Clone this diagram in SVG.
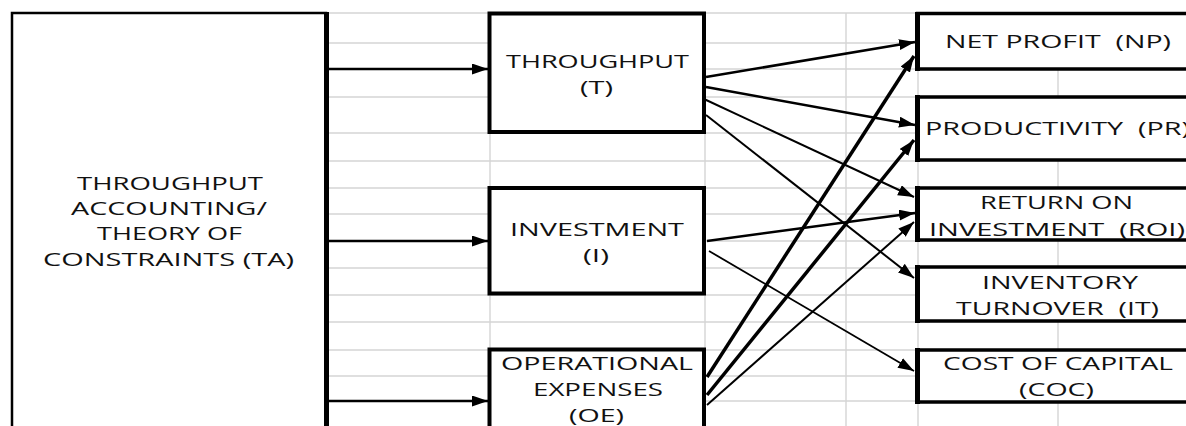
<svg xmlns="http://www.w3.org/2000/svg" width="1186" height="426" viewBox="0 0 1186 426">
<defs>
<marker id="ah" markerUnits="userSpaceOnUse" markerWidth="17" markerHeight="12" refX="16" refY="5.5" orient="auto">
<path d="M0,0 L16,5.5 L0,11 z" fill="#000"/>
</marker>
<style>
.grid line{stroke:#d4d4d4;stroke-width:1.4}
.box{fill:#fff;stroke:#000;stroke-width:4}
.rbox{fill:#fff;stroke:#000;stroke-width:3.5}
text{font-family:"Open Sans","Liberation Sans",sans-serif;font-size:18px;fill:#111;white-space:pre}
.c line{stroke:#000;fill:none;marker-end:url(#ah)}
</style>
</defs>
<rect width="1186" height="426" fill="#fff"/>
<g class="grid">
<line x1="327" y1="13" x2="918" y2="13"/>
<line x1="327" y1="43" x2="918" y2="43"/>
<line x1="327" y1="69" x2="918" y2="69"/>
<line x1="327" y1="97" x2="918" y2="97"/>
<line x1="327" y1="133" x2="918" y2="133"/>
<line x1="327" y1="161" x2="918" y2="161"/>
<line x1="327" y1="188" x2="918" y2="188"/>
<line x1="327" y1="214" x2="918" y2="214"/>
<line x1="327" y1="241" x2="918" y2="241"/>
<line x1="327" y1="268" x2="918" y2="268"/>
<line x1="327" y1="295" x2="918" y2="295"/>
<line x1="327" y1="322" x2="918" y2="322"/>
<line x1="327" y1="350" x2="918" y2="350"/>
<line x1="327" y1="376" x2="918" y2="376"/>
<line x1="327" y1="401" x2="918" y2="401"/>
<line x1="490" y1="132" x2="490" y2="188"/>
<line x1="490" y1="293" x2="490" y2="350"/>
<line x1="705" y1="132" x2="705" y2="188"/>
<line x1="705" y1="293" x2="705" y2="350"/>
<line x1="846" y1="13" x2="846" y2="426"/>
<line x1="918" y1="13" x2="918" y2="426"/>
<line x1="1058" y1="69" x2="1058" y2="97"/>
<line x1="1058" y1="160" x2="1058" y2="188"/>
<line x1="1058" y1="240" x2="1058" y2="267"/>
<line x1="1058" y1="321" x2="1058" y2="350"/>
<line x1="1058" y1="402" x2="1058" y2="426"/>
</g>
<g id="ta">
<rect x="12" y="13" width="314" height="430" fill="#fff" stroke="#000" stroke-width="2.5"/>
<line x1="326.5" y1="12" x2="326.5" y2="426" stroke="#000" stroke-width="5"/>
<text x="77" y="190" textLength="186" lengthAdjust="spacingAndGlyphs">THROUGHPUT</text>
<text x="71" y="215" textLength="196" lengthAdjust="spacingAndGlyphs">ACCOUNTING/</text>
<text x="97" y="240" textLength="145" lengthAdjust="spacingAndGlyphs">THEORY OF</text>
<text x="43" y="266" textLength="251" lengthAdjust="spacingAndGlyphs">CONSTRAINTS (TA)</text>
</g>
<g id="t">
<rect class="box" x="489.5" y="13.5" width="214.5" height="118.5"/>
<text x="506" y="68" textLength="183" lengthAdjust="spacingAndGlyphs">THROUGHPUT</text>
<text x="580" y="94" textLength="33" lengthAdjust="spacingAndGlyphs">(T)</text>
</g>
<g id="i">
<rect class="box" x="489.5" y="188" width="214.5" height="105.5"/>
<text x="510" y="236" textLength="174" lengthAdjust="spacingAndGlyphs">INVESTMENT</text>
<text x="583" y="262" textLength="26" lengthAdjust="spacingAndGlyphs">(I)</text>
</g>
<g id="oe">
<rect class="box" x="489.5" y="349.5" width="214.5" height="100"/>
<text x="501" y="370" textLength="192" lengthAdjust="spacingAndGlyphs">OPERATIONAL</text>
<text x="533" y="396" textLength="130" lengthAdjust="spacingAndGlyphs">EXPENSES</text>
<text x="569" y="422" textLength="55" lengthAdjust="spacingAndGlyphs">(OE)</text>
</g>
<g id="np">
<rect class="rbox" x="917.5" y="13.5" width="300" height="55.5"/>
<line x1="917.5" y1="12" x2="917.5" y2="71" stroke="#000" stroke-width="5"/>
<text x="945" y="48" textLength="226" lengthAdjust="spacingAndGlyphs">NET PROFIT  (NP)</text>
</g>
<g id="pr">
<rect class="rbox" x="917.5" y="97" width="300" height="63"/>
<line x1="917.5" y1="95" x2="917.5" y2="162" stroke="#000" stroke-width="5"/>
<text x="925" y="135" textLength="265" lengthAdjust="spacingAndGlyphs">PRODUCTIVITY  (PR)</text>
</g>
<g id="roi">
<rect class="rbox" x="917.5" y="188" width="300" height="52"/>
<line x1="917.5" y1="186" x2="917.5" y2="242" stroke="#000" stroke-width="5"/>
<text x="980" y="209" textLength="153" lengthAdjust="spacingAndGlyphs">RETURN ON</text>
<text x="929" y="236" textLength="256" lengthAdjust="spacingAndGlyphs">INVESTMENT  (ROI)</text>
</g>
<g id="it">
<rect class="rbox" x="917.5" y="267" width="300" height="54"/>
<line x1="917.5" y1="265" x2="917.5" y2="323" stroke="#000" stroke-width="5"/>
<text x="982" y="289" textLength="156" lengthAdjust="spacingAndGlyphs">INVENTORY</text>
<text x="956" y="315" textLength="203" lengthAdjust="spacingAndGlyphs">TURNOVER  (IT)</text>
</g>
<g id="coc">
<rect class="rbox" x="917.5" y="350" width="300" height="52"/>
<line x1="917.5" y1="348" x2="917.5" y2="404" stroke="#000" stroke-width="5"/>
<text x="943" y="370" textLength="230" lengthAdjust="spacingAndGlyphs">COST OF CAPITAL</text>
<text x="1019" y="396" textLength="75" lengthAdjust="spacingAndGlyphs">(COC)</text>
</g>
<g id="connectors" class="c">
<line x1="329" y1="69" x2="488" y2="69" stroke-width="2.5"/>
<line x1="329" y1="241" x2="488" y2="241" stroke-width="2.5"/>
<line x1="329" y1="401" x2="488" y2="401" stroke-width="2.5"/>
<line x1="706" y1="77" x2="915" y2="42" stroke-width="2.5"/>
<line x1="706" y1="87" x2="915" y2="125" stroke-width="2.5"/>
<line x1="704" y1="99" x2="914" y2="197" stroke-width="2"/>
<line x1="706" y1="115" x2="914" y2="278" stroke-width="2"/>
<line x1="707" y1="241" x2="915" y2="213" stroke-width="2.5"/>
<line x1="709" y1="251" x2="914" y2="371" stroke-width="1.8"/>
<line x1="707" y1="377" x2="914" y2="56" stroke-width="3.5"/>
<line x1="707" y1="395" x2="914" y2="140" stroke-width="3.5"/>
<line x1="707" y1="405" x2="914" y2="222" stroke-width="2"/>
</g>
</svg>
